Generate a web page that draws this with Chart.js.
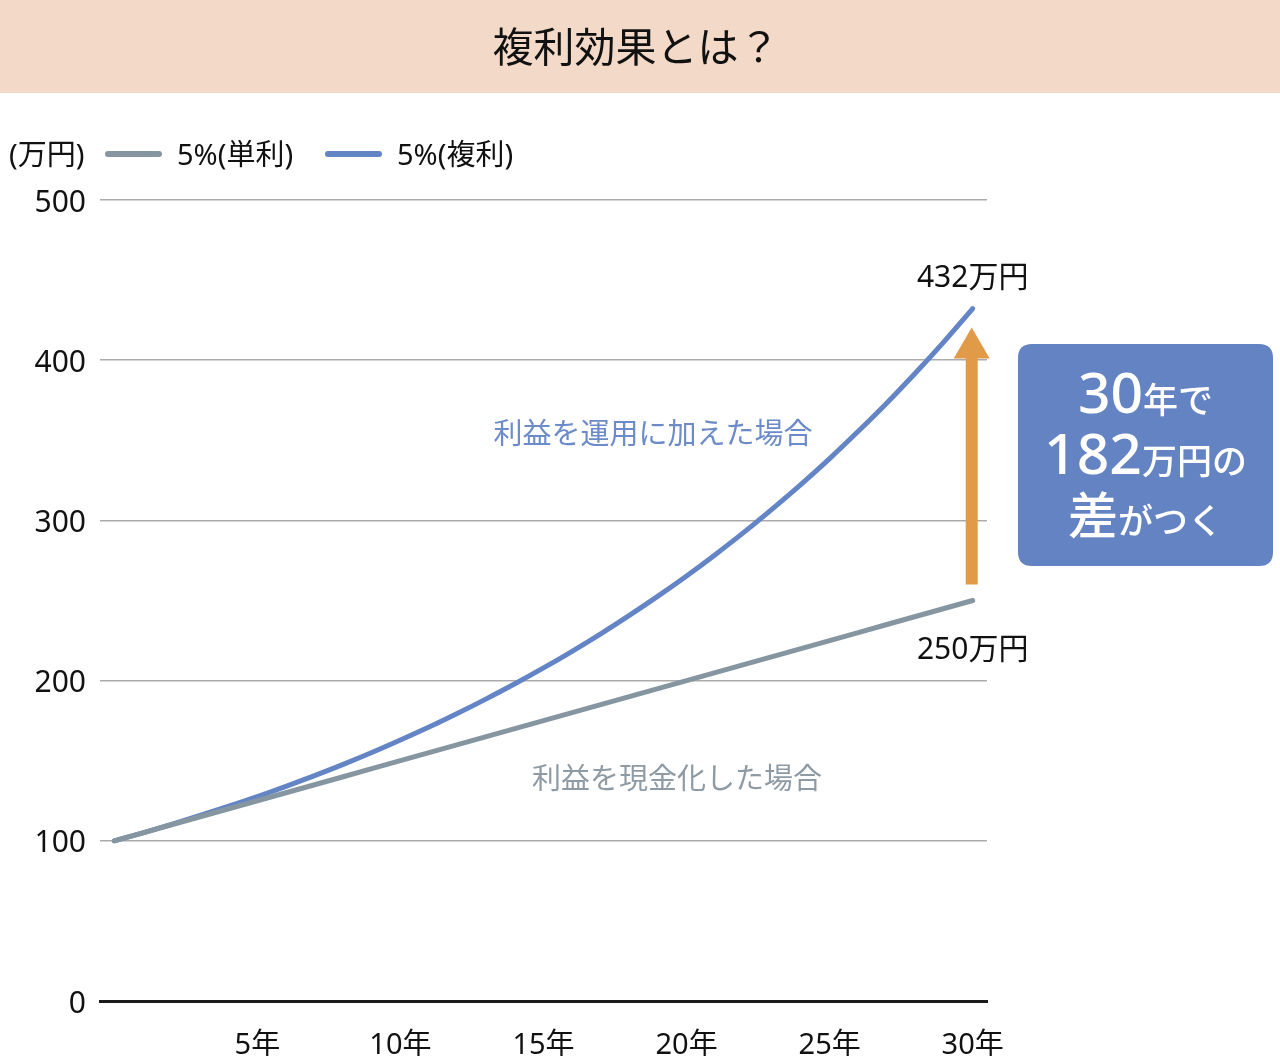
<!DOCTYPE html>
<html>
<head>
<meta charset="utf-8">
<script src="https://cdn.jsdelivr.net/npm/chart.js@4/dist/chart.umd.min.js"></script>
<style>
  html, body { margin: 0; padding: 0; background: #ffffff; }
  #wrap { width: 1280px; height: 1056px; position: relative; }
</style>
</head>
<body>
<div id="wrap"><canvas id="c" width="1280" height="1056"></canvas></div>
<script>
// ---- data ----
const years = [0,1,2,3,4,5,6,7,8,9,10,11,12,13,14,15,16,17,18,19,20,21,22,23,24,25,26,27,28,29,30];
const simpleValues = [100,105,110,115,120,125,130,135,140,145,150,155,160,165,170,175,180,185,190,195,200,205,210,215,220,225,230,235,240,245,250];
const compoundValues = [100,105,110.3,115.8,121.6,127.6,134,140.7,147.7,155.1,162.9,171,179.6,188.6,198,207.9,218.3,229.2,240.7,252.7,265.3,278.6,292.5,307.2,322.5,338.6,355.6,373.3,392,411.6,432.2];
const seriesNames = ['5%(単利)', '5%(複利)'];
const xTickValues = [5,10,15,20,25,30];
const xTickSuffix = '年';
const yTickValues = [0,100,200,300,400,500];
const titleText = '複利効果とは？';
const unitText = '(万円)';
const endLabels = ['250万円', '432万円'];
const seriesNotes = ['利益を現金化した場合', '利益を運用に加えた場合'];
const boxLines = [['30', '年で'], ['182', '万円の'], ['差', 'がつく']];

const FONT = '"Noto Sans", "Noto Sans CJK JP", sans-serif';
const GRAY = '#8696a1';
const BLUE = '#6485c5';

const decor = {
  id: 'decor',
  beforeDraw(chart) {
    const ctx = chart.ctx;
    ctx.save();
    ctx.fillStyle = '#ffffff';
    ctx.fillRect(0, 0, chart.width, chart.height);
    ctx.fillStyle = '#f2d9c8';
    ctx.fillRect(0, 0, chart.width, 93);
    ctx.fillStyle = '#111111';
    ctx.font = '400 41px ' + FONT;
    ctx.textAlign = 'center';
    ctx.textBaseline = 'middle';
    ctx.fillText(titleText, 636, 50);
    ctx.restore();
  },
  afterDatasetsDraw(chart) {
    const ctx = chart.ctx;
    const xs = chart.scales.x, ys = chart.scales.y;
    const last = years.length - 1;
    const xEnd = xs.getPixelForValue(years[last]);
    const ySimple = ys.getPixelForValue(simpleValues[last]);
    const yComp = ys.getPixelForValue(compoundValues[last]);
    ctx.save();
    // arrow
    const ax = xEnd - 1;
    const tip = yComp + 19;
    const bottom = ySimple - 16;
    ctx.fillStyle = '#e09a48';
    ctx.fillRect(ax - 6, tip + 28, 12, bottom - (tip + 28));
    ctx.beginPath();
    ctx.moveTo(ax, tip);
    ctx.lineTo(ax + 18, tip + 31);
    ctx.lineTo(ax - 18, tip + 31);
    ctx.closePath();
    ctx.fill();

    // end labels
    ctx.fillStyle = '#111111';
    ctx.font = '400 30px ' + FONT;
    ctx.textAlign = 'center';
    ctx.textBaseline = 'middle';
    ctx.fillText(endLabels[1], xEnd, yComp - 30);
    ctx.fillText(endLabels[0], xEnd, ySimple + 50);

    // series notes
    ctx.font = '400 29px ' + FONT;
    ctx.fillStyle = '#6c8bc9';
    ctx.fillText(seriesNotes[1], 653, 436);
    ctx.fillStyle = '#8f9ba4';
    ctx.fillText(seriesNotes[0], 677, 781);

    // box
    const bx = 1018, by = 344, bw = 255, bh = 222, r = 14;
    ctx.fillStyle = '#6483c3';
    ctx.beginPath();
    ctx.moveTo(bx + r, by);
    ctx.lineTo(bx + bw - r, by);
    ctx.quadraticCurveTo(bx + bw, by, bx + bw, by + r);
    ctx.lineTo(bx + bw, by + bh - r);
    ctx.quadraticCurveTo(bx + bw, by + bh, bx + bw - r, by + bh);
    ctx.lineTo(bx + r, by + bh);
    ctx.quadraticCurveTo(bx, by + bh, bx, by + bh - r);
    ctx.lineTo(bx, by + r);
    ctx.quadraticCurveTo(bx, by, bx + r, by);
    ctx.closePath();
    ctx.fill();

    ctx.fillStyle = '#ffffff';
    ctx.textAlign = 'left';
    ctx.textBaseline = 'alphabetic';
    const baselines = [413, 474, 534];
    const bigFonts = ['500 57px ' + FONT, '500 57px ' + FONT, '500 50px ' + FONT];
    const smallFont = '500 35px ' + FONT;
    const cx = bx + bw / 2;
    boxLines.forEach((parts, i) => {
      ctx.font = bigFonts[i];
      const w1 = ctx.measureText(parts[0]).width;
      ctx.font = smallFont;
      const w2 = ctx.measureText(parts[1]).width;
      const x = cx - (w1 + w2) / 2;
      ctx.font = bigFonts[i];
      ctx.fillText(parts[0], x, baselines[i]);
      ctx.font = smallFont;
      ctx.fillText(parts[1], x + w1, baselines[i]);
    });
    ctx.restore();
  },
  afterDraw(chart) {
    const ctx = chart.ctx;
    ctx.save();
    ctx.font = '400 29px ' + FONT;
    ctx.fillStyle = '#111111';
    ctx.textBaseline = 'middle';
    ctx.textAlign = 'left';
    const ly = 154;
    ctx.fillText(unitText, 9, ly + 3);
    const items = [
      { x: 105, text: seriesNames[0], color: chart.data.datasets[0].borderColor },
      { x: 325, text: seriesNames[1], color: chart.data.datasets[1].borderColor }
    ];
    items.forEach(it => {
      ctx.strokeStyle = it.color;
      ctx.lineWidth = 6;
      ctx.lineCap = 'round';
      ctx.beginPath();
      ctx.moveTo(it.x + 3, ly);
      ctx.lineTo(it.x + 54, ly);
      ctx.stroke();
      ctx.fillStyle = '#111111';
      ctx.fillText(it.text, it.x + 72, ly + 3);
    });
    ctx.restore();
  }
};

new Chart(document.getElementById('c'), {
  type: 'line',
  data: {
    labels: years,
    datasets: [
      {
        label: seriesNames[0],
        data: years.map((x, i) => ({ x: x, y: simpleValues[i] })),
        borderColor: GRAY,
        borderWidth: 5,
        pointRadius: 0,
        borderCapStyle: 'round',
        tension: 0
      },
      {
        label: seriesNames[1],
        data: years.map((x, i) => ({ x: x, y: compoundValues[i] })),
        borderColor: BLUE,
        borderWidth: 5,
        pointRadius: 0,
        borderCapStyle: 'round',
        cubicInterpolationMode: 'monotone'
      }
    ]
  },
  options: {
    responsive: false,
    animation: false,
    layout: { padding: { top: 200, left: 0, right: 293, bottom: 0 } },
    plugins: {
      legend: { display: false },
      tooltip: { enabled: false },
      title: { display: false }
    },
    scales: {
      x: {
        type: 'linear',
        min: -0.5,
        max: 30.5,
        afterFit(scale) { scale.height = 55; },
        afterBuildTicks(scale) { scale.ticks = xTickValues.map(v => ({ value: v })); },
        grid: { display: false, drawTicks: false },
        border: { display: true, color: '#1a1a1a', width: 3 },
        ticks: {
          padding: 27,
          maxRotation: 0,
          autoSkip: false,
          color: '#111111',
          font: { family: FONT, size: 29 },
          callback: v => v + xTickSuffix
        }
      },
      y: {
        min: 0,
        max: 500,
        afterFit(scale) { scale.width = 100; },
        afterBuildTicks(scale) { scale.ticks = yTickValues.map(v => ({ value: v })); },
        grid: { color: '#ababab', lineWidth: 1.5, drawTicks: false },
        border: { display: false },
        ticks: {
          padding: 14,
          labelOffset: 3,
          color: '#111111',
          font: { family: FONT, size: 30 }
        }
      }
    }
  },
  plugins: [decor]
});
</script>
</body>
</html>
